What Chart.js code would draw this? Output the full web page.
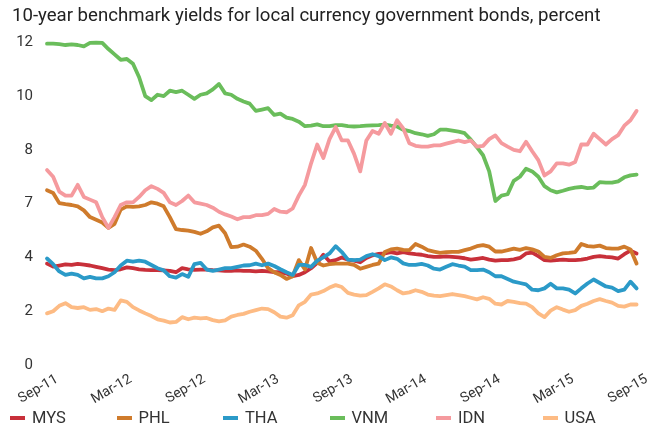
<!DOCTYPE html>
<html>
<head>
<meta charset="utf-8">
<script src="https://cdn.jsdelivr.net/npm/chart.js@4.4.1/dist/chart.umd.min.js"></script>
<style>
  html, body { margin: 0; padding: 0; background: #fff; }
  #wrap { position: relative; width: 651px; height: 425px; }
  #legend { position: absolute; left: 10px; top: 408px; display: flex; font-family: Roboto, sans-serif; font-size: 16.5px; line-height: 20px; color: #333; }
  .item { width: 106.5px; display: flex; align-items: center; }
  .swatch { width: 15px; height: 4px; margin-right: 7px; }
</style>
</head>
<body>
<div id="wrap">
  <canvas id="chart" width="651" height="425"></canvas>
  <div id="legend"></div>
</div>
<script>
const titleText = '10-year benchmark yields for local currency government bonds, percent';

// half-monthly readings, Sep-11 .. Sep-15
const xTickLabels = ['Sep-11', 'Mar-12', 'Sep-12', 'Mar-13', 'Sep-13', 'Mar-14', 'Sep-14', 'Mar-15', 'Sep-15'];
const yTickLabels = ['0', '2', '4', '7', '8', '10', '12'];

const seriesNames = ['MYS', 'PHL', 'THA', 'VNM', 'IDN', 'USA'];
const seriesColors = ['#c8303a', '#cf7b2c', '#2b9ac8', '#6abd5b', '#f59a9e', '#fdbb84'];

const mys = [3.77,3.66,3.70,3.74,3.72,3.76,3.73,3.70,3.65,3.60,3.55,3.53,3.56,3.63,3.60,3.56,3.54,3.53,3.53,3.52,3.50,3.45,3.60,3.56,3.54,3.55,
  3.55,3.53,3.52,3.50,3.50,3.52,3.50,3.50,3.48,3.50,3.48,3.45,3.45,3.40,3.30,3.35,3.45,3.60,3.80,4.10,3.85,3.90,4.00,3.92,
  3.88,3.82,3.98,4.08,4.13,4.15,4.20,4.15,4.20,4.15,4.12,4.10,4.05,4.02,4.02,4.04,4.02,4.00,3.97,3.92,3.95,3.98,3.92,3.88,
  3.90,3.90,3.93,3.98,4.15,4.18,4.05,3.90,3.88,3.90,3.92,3.90,3.90,3.92,3.96,4.02,4.05,4.02,4.00,3.96,4.12,4.25,4.15];

const phl = [6.50,6.40,6.02,5.98,5.95,5.90,5.75,5.50,5.40,5.30,5.10,5.25,5.78,5.90,5.88,5.90,5.95,6.05,6.00,5.90,5.50,5.05,5.02,5.00,4.95,4.88,
  4.97,5.12,5.18,4.90,4.38,4.40,4.48,4.40,4.25,3.95,3.60,3.45,3.35,3.20,3.30,3.90,3.55,4.35,3.80,3.70,3.75,3.77,3.77,3.77,
  3.72,3.58,3.65,3.72,3.77,4.20,4.30,4.33,4.28,4.27,4.50,4.40,4.27,4.22,4.17,4.20,4.21,4.21,4.27,4.33,4.42,4.46,4.40,4.22,
  4.22,4.27,4.33,4.28,4.35,4.30,4.22,4.02,3.98,4.08,4.15,4.17,4.20,4.50,4.42,4.40,4.44,4.35,4.33,4.33,4.40,4.30,3.77];

const tha = [3.96,3.75,3.48,3.35,3.40,3.35,3.22,3.28,3.22,3.22,3.30,3.45,3.70,3.88,3.84,3.88,3.84,3.72,3.60,3.52,3.30,3.25,3.38,3.28,3.75,3.80,
  3.55,3.50,3.55,3.60,3.60,3.65,3.70,3.71,3.77,3.71,3.77,3.68,3.56,3.45,3.35,3.72,3.72,3.65,3.88,4.00,4.15,4.42,4.20,3.92,
  3.90,3.92,4.05,4.12,4.05,3.90,4.00,3.95,3.78,3.72,3.72,3.76,3.70,3.58,3.55,3.65,3.75,3.70,3.66,3.53,3.53,3.55,3.45,3.30,
  3.30,3.20,3.10,3.05,3.00,2.80,2.78,2.85,3.02,2.85,2.85,2.80,2.66,2.85,3.03,3.18,3.05,2.92,2.88,2.75,2.80,3.10,2.85];

const vnm = [11.95,11.95,11.93,11.90,11.92,11.90,11.85,11.98,11.99,11.98,11.75,11.55,11.35,11.38,11.20,10.70,10.00,9.85,10.05,10.00,10.20,10.15,10.20,10.05,9.90,10.05,
  10.10,10.25,10.45,10.10,10.05,9.90,9.80,9.72,9.45,9.50,9.55,9.30,9.35,9.20,9.15,9.05,8.88,8.90,8.95,8.88,8.88,8.92,8.92,8.88,
  8.87,8.88,8.90,8.91,8.92,8.94,8.90,8.87,8.75,8.70,8.62,8.58,8.52,8.58,8.75,8.75,8.72,8.68,8.62,8.38,8.10,7.80,7.20,6.10,
  6.30,6.35,6.85,7.00,7.30,7.20,7.00,6.65,6.50,6.42,6.48,6.55,6.60,6.62,6.58,6.60,6.80,6.78,6.78,6.83,6.98,7.05,7.08];

const idn = [7.25,7.00,6.45,6.30,6.30,6.70,6.25,6.15,6.05,5.50,5.10,5.50,5.95,6.05,6.05,6.25,6.50,6.65,6.55,6.40,6.05,5.95,6.10,6.30,6.05,6.00,
  5.95,5.85,5.70,5.60,5.52,5.42,5.50,5.50,5.57,5.57,5.62,5.80,5.70,5.68,5.82,6.30,6.70,7.50,8.20,7.70,8.40,8.85,8.35,8.35,
  7.85,7.20,8.35,8.70,8.60,9.00,8.60,9.10,8.80,8.25,8.15,8.12,8.12,8.17,8.17,8.23,8.29,8.35,8.29,8.35,8.12,8.15,8.40,8.54,
  8.25,8.12,8.00,7.95,8.30,7.95,7.62,7.05,7.20,7.50,7.50,7.45,7.55,8.20,8.20,8.60,8.40,8.20,8.40,8.55,8.90,9.10,9.45];

const usa = [1.92,2.00,2.20,2.30,2.15,2.12,2.15,2.05,2.08,2.00,2.10,2.05,2.40,2.35,2.15,2.03,1.92,1.82,1.70,1.65,1.58,1.60,1.78,1.70,1.76,1.73,
  1.75,1.67,1.62,1.66,1.80,1.86,1.90,1.98,2.04,2.10,2.08,1.96,1.80,1.76,1.85,2.22,2.35,2.62,2.66,2.75,2.88,2.97,2.90,2.68,
  2.62,2.58,2.60,2.72,2.85,3.00,2.92,2.78,2.66,2.70,2.78,2.72,2.62,2.58,2.56,2.60,2.64,2.60,2.56,2.50,2.44,2.52,2.46,2.28,
  2.25,2.38,2.35,2.30,2.28,2.15,1.92,1.78,2.02,2.15,2.06,1.98,2.04,2.20,2.28,2.38,2.45,2.38,2.32,2.20,2.17,2.25,2.25];

const allSeries = [mys, phl, tha, vnm, idn, usa];
const labels = mys.map((_, i) => i);

const datasets = allSeries.map((values, k) => ({
    label: seriesNames[k],
    data: values,
    borderColor: seriesColors[k],
    backgroundColor: seriesColors[k],
    borderWidth: 3.8,
    pointRadius: 0,
    tension: 0,
    borderJoinStyle: 'round',
    borderCapStyle: 'round',
    clip: false,
    order: allSeries.length - k   // later series drawn on top
}));

const font = 'Roboto, sans-serif';

new Chart(document.getElementById('chart'), {
    type: 'line',
    data: { labels: labels, datasets: datasets },
    options: {
        responsive: false,
        animation: false,
        layout: { padding: { left: 12, right: 13, top: 0, bottom: 20 } },
        plugins: {
            legend: { display: false },
            tooltip: { enabled: false },
            title: {
                display: true,
                text: titleText,
                align: 'start',
                color: '#222',
                font: { family: font, size: 18.6, weight: 'normal' },
                padding: { top: 5, bottom: 15 }
            }
        },
        scales: {
            x: {
                grid: { display: false, drawTicks: false },
                border: { display: false },
                ticks: {
                    autoSkip: false,
                    minRotation: 30,
                    maxRotation: 30,
                    padding: 6,
                    labelOffset: 10,
                    color: '#333',
                    font: { family: font, size: 14 },
                    callback: (v, i) => i % 12 === 0 ? xTickLabels[i / 12] : null
                },
                afterFit: s => { s.height = 40; }
            },
            y: {
                min: 0,
                max: 12,
                grid: { display: false, drawTicks: false },
                border: { display: false },
                ticks: {
                    stepSize: 2,
                    padding: 14,
                    color: '#333',
                    font: { family: font, size: 15 },
                    callback: (v, i) => yTickLabels[i]
                },
                afterFit: s => { s.width = 35; }
            }
        }
    }
});

// legend row under the chart
const legendBox = document.getElementById('legend');
seriesNames.forEach((name, k) => {
    const item = document.createElement('div');
    item.className = 'item';
    const sw = document.createElement('span');
    sw.className = 'swatch';
    sw.style.background = seriesColors[k];
    item.appendChild(sw);
    item.append(name);
    legendBox.appendChild(item);
});
</script>
</body>
</html>
